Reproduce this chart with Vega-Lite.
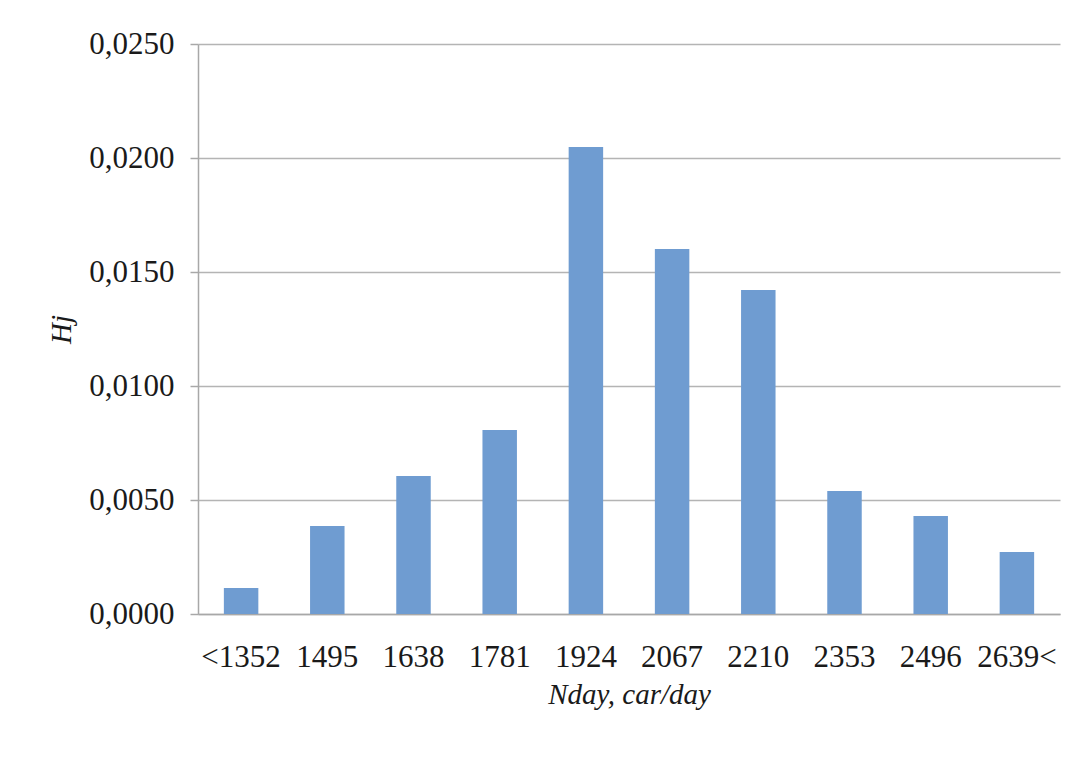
{
  "$schema": "https://vega.github.io/schema/vega-lite/v6.json",
  "width": 862,
  "height": 570,
  "autosize": {"type": "none"},
  "padding": {"left": 198, "top": 44, "right": 22, "bottom": 153},
  "background": "white",
  "data": {
    "values": [
      {"bin": "<1352", "H": 0.00114},
      {"bin": "1495", "H": 0.00386},
      {"bin": "1638", "H": 0.00605},
      {"bin": "1781", "H": 0.00807},
      {"bin": "1924", "H": 0.02048},
      {"bin": "2067", "H": 0.01601},
      {"bin": "2210", "H": 0.01421},
      {"bin": "2353", "H": 0.0054},
      {"bin": "2496", "H": 0.0043},
      {"bin": "2639<", "H": 0.00272}
    ]
  },
  "mark": {"type": "bar", "color": "#6F9CD1"},
  "encoding": {
    "x": {
      "field": "bin",
      "type": "ordinal",
      "sort": null,
      "scale": {"paddingInner": 0.6, "paddingOuter": 0.3},
      "axis": {
        "title": "Nday, car/day",
        "labelAngle": 0,
        "labelFont": "Liberation Serif",
        "labelFontSize": 31,
        "labelColor": "#1a1a1a",
        "labelPadding": 28,
        "ticks": false,
        "domainColor": "#A8A8A8",
        "domainWidth": 1.5,
        "titleFont": "Liberation Serif",
        "titleFontSize": 29,
        "titleFontStyle": "italic",
        "titleFontWeight": "normal",
        "titleColor": "#1a1a1a",
        "titlePadding": 8
      }
    },
    "y": {
      "field": "H",
      "type": "quantitative",
      "scale": {"domain": [0, 0.025], "nice": false},
      "axis": {
        "title": "Hj",
        "values": [0, 0.005, 0.01, 0.015, 0.02, 0.025],
        "labelExpr": "replace(format(datum.value, '.4f'), '.', ',')",
        "labelFont": "Liberation Serif",
        "labelFontSize": 31,
        "labelColor": "#1a1a1a",
        "labelPadding": 16,
        "tickSize": 8,
        "tickColor": "#A8A8A8",
        "tickWidth": 1.5,
        "domainColor": "#A8A8A8",
        "domainWidth": 1.5,
        "grid": true,
        "gridColor": "#B4B4B4",
        "gridWidth": 1.5,
        "titleFont": "Liberation Serif",
        "titleFontSize": 29,
        "titleFontStyle": "italic",
        "titleFontWeight": "normal",
        "titleColor": "#1a1a1a",
        "titlePadding": 12
      }
    }
  },
  "config": {"view": {"stroke": null}}
}
